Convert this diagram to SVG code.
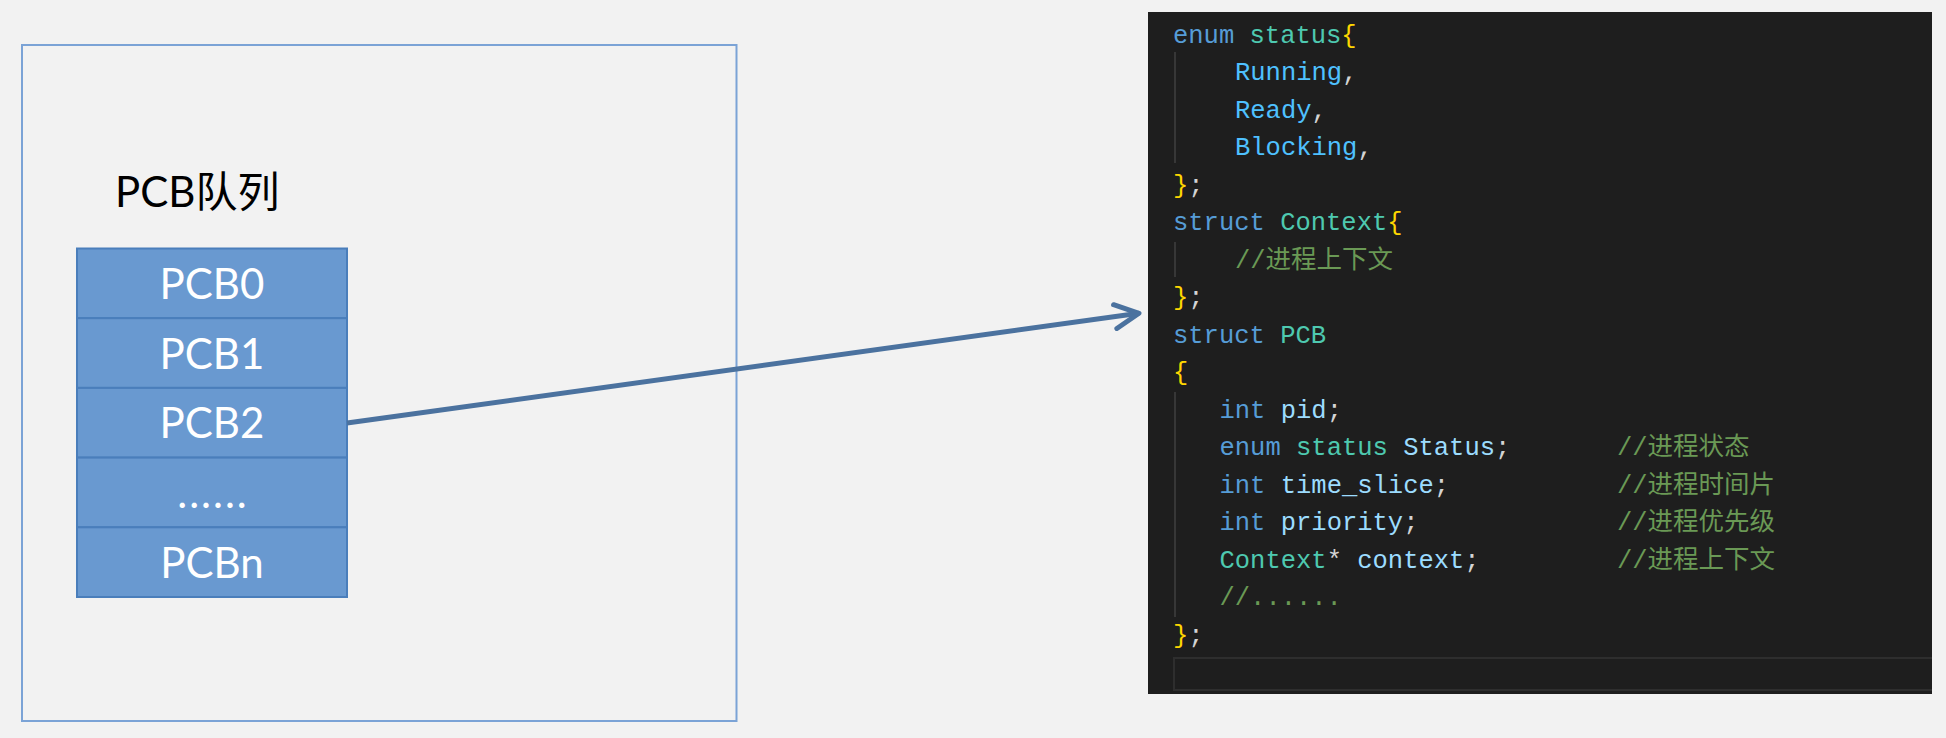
<svg xmlns="http://www.w3.org/2000/svg" width="1946" height="738" viewBox="0 0 1946 738">
<defs>
<style>
.lbl{font-family:"Lato","Noto Sans CJK SC",sans-serif;font-size:42px;}
.cell{fill:#6999d0;stroke:#4a7ebb;stroke-width:2;}
.cellt{fill:#ffffff;text-anchor:middle;}
.code{font-family:"Liberation Mono","Noto Sans CJK SC",monospace;font-size:25.5px;fill:#d4d4d4;}
.kw{fill:#569cd6;}
.ty{fill:#4ec9b0;}
.em{fill:#4fc1ff;}
.br{fill:#ffd700;}
.va{fill:#9cdcfe;}
.cm{fill:#6a9955;}
.guide{stroke:#404040;stroke-width:1.5;}
</style>
<marker id="arr" markerUnits="userSpaceOnUse" viewBox="-30 -16 36 32" markerWidth="36" markerHeight="32" refX="0" refY="0" orient="auto" overflow="visible">
<path d="M-24,-12 L0,0 L-24,12" fill="none" stroke="#4b729f" stroke-width="5" stroke-linecap="round" stroke-linejoin="round"/>
</marker>
</defs>
<rect x="0" y="0" width="1946" height="738" fill="#f2f2f2"/>

<g id="queue">
<rect x="22" y="45" width="714.5" height="676" fill="none" stroke="#7ba3d6" stroke-width="2"/>
<text class="lbl" x="115" y="207" fill="#000000">PCB队列</text>
</g>

<g id="pcb0"><rect class="cell" x="77" y="248.5" width="270" height="69.7"/><text class="lbl cellt" x="212" y="299">PCB0</text></g>
<g id="pcb1"><rect class="cell" x="77" y="318.2" width="270" height="69.7"/><text class="lbl cellt" x="212" y="369">PCB1</text></g>
<g id="pcb2"><rect class="cell" x="77" y="387.9" width="270" height="69.7"/><text class="lbl cellt" x="212" y="438">PCB2</text></g>
<g id="pcbdots"><rect class="cell" x="77" y="457.6" width="270" height="69.7"/><text class="lbl cellt" x="213" y="508" letter-spacing="2">......</text></g>
<g id="pcbn"><rect class="cell" x="77" y="527.3" width="270" height="69.7"/><text class="lbl cellt" x="212" y="578">PCBn</text></g>

<g id="code">
<rect x="1148" y="12" width="784" height="682" fill="#1e1e1e"/>
<line class="guide" x1="1175" y1="52" x2="1175" y2="163"/>
<line class="guide" x1="1175" y1="242" x2="1175" y2="277"/>
<line class="guide" x1="1175" y1="392" x2="1175" y2="617"/>
<path d="M1932,658 H1174 V690 H1932" fill="none" stroke="#2e2e2e" stroke-width="2"/>
<text class="code" x="1173" y="42.5"><tspan class="kw">enum</tspan> <tspan class="ty">status</tspan><tspan class="br">{</tspan></text>
<text class="code" x="1235" y="80"><tspan class="em">Running</tspan>,</text>
<text class="code" x="1235" y="117.5"><tspan class="em">Ready</tspan>,</text>
<text class="code" x="1235" y="155"><tspan class="em">Blocking</tspan>,</text>
<text class="code" x="1173" y="192.5"><tspan class="br">}</tspan>;</text>
<text class="code" x="1173" y="230"><tspan class="kw">struct</tspan> <tspan class="ty">Context</tspan><tspan class="br">{</tspan></text>
<text class="code cm" x="1235" y="267.5">//进程上下文</text>
<text class="code" x="1173" y="305"><tspan class="br">}</tspan>;</text>
<text class="code" x="1173" y="342.5"><tspan class="kw">struct</tspan> <tspan class="ty">PCB</tspan></text>
<text class="code br" x="1173" y="380">{</text>
<text class="code" x="1219.5" y="417.5"><tspan class="kw">int</tspan> <tspan class="va">pid</tspan>;</text>
<text class="code" x="1219.5" y="455"><tspan class="kw">enum</tspan> <tspan class="ty">status</tspan> <tspan class="va">Status</tspan>;</text>
<text class="code cm" x="1617" y="455">//进程状态</text>
<text class="code" x="1219.5" y="492.5"><tspan class="kw">int</tspan> <tspan class="va">time_slice</tspan>;</text>
<text class="code cm" x="1617" y="492.5">//进程时间片</text>
<text class="code" x="1219.5" y="530"><tspan class="kw">int</tspan> <tspan class="va">priority</tspan>;</text>
<text class="code cm" x="1617" y="530">//进程优先级</text>
<text class="code" x="1219.5" y="567.5"><tspan class="ty">Context</tspan>* <tspan class="va">context</tspan>;</text>
<text class="code cm" x="1617" y="567.5">//进程上下文</text>
<text class="code cm" x="1219.5" y="605">//......</text>
<text class="code" x="1173" y="642.5"><tspan class="br">}</tspan>;</text>
</g>

<g id="connectors">
<line x1="347" y1="423" x2="1139" y2="313.3" stroke="#4b729f" stroke-width="5" marker-end="url(#arr)"/>
</g>
</svg>
